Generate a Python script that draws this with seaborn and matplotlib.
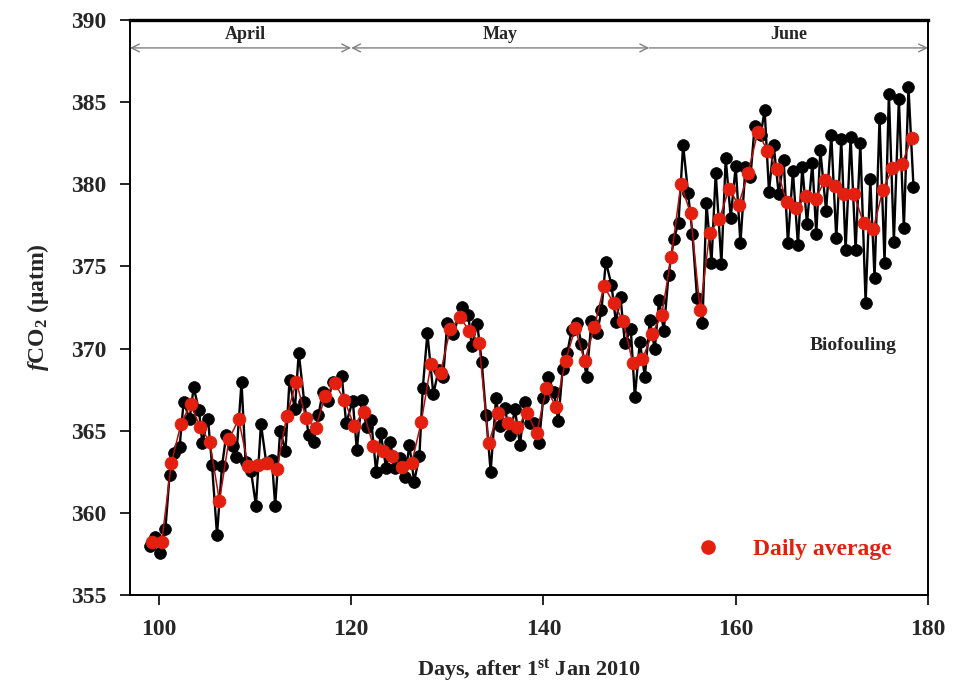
import numpy as np
import pandas as pd
import matplotlib
matplotlib.use("Agg")
import matplotlib.pyplot as plt
from matplotlib.lines import Line2D
import seaborn as sns

# Twice-daily fCO2 observations (day of year 2010, µatm)
obs_day = [
    99.12, 99.64, 100.16, 100.68, 101.12, 101.54, 102.16, 102.58, 103.2, 103.62,
    104.17, 104.52, 105.11, 105.53, 106.05, 106.57, 107.01, 107.71, 108.05, 108.6,
    109.02, 109.58, 110.1, 110.62, 111.17, 111.76, 112.1, 112.62, 113.17, 113.59,
    114.15, 114.55, 115.12, 115.57, 116.09, 116.6, 117.06, 117.58, 118.1, 119.03,
    119.48, 120.17, 120.59, 121.11, 121.6, 122.08, 122.6, 123.08, 123.64, 124.05,
    124.57, 125.09, 125.61, 126.06, 126.55, 127.1, 127.45, 127.93, 128.55, 129.1,
    129.57, 130.0, 130.63, 131.5, 132.19, 132.54, 133.12, 133.58, 134.03, 134.51,
    135.07, 135.48, 136.0, 136.52, 137.04, 137.56, 138.08, 138.6, 139.05, 139.53,
    139.98, 140.5, 141.09, 141.54, 142.0, 142.48, 142.94, 143.51, 143.96, 144.49,
    145.0, 145.58, 146.04, 146.49, 147.08, 147.53, 148.02, 148.47, 149.09, 149.51,
    150.03, 150.55, 151.06, 151.58, 152.03, 152.52, 153.01, 153.56, 154.05, 154.53,
    155.05, 155.5, 155.98, 156.54, 156.96, 157.48, 157.92, 158.51, 158.96, 159.48,
    160.0, 160.49, 161.01, 161.53, 161.97, 162.6, 163.01, 163.46, 163.95, 164.47,
    164.99, 165.43, 165.95, 166.47, 166.93, 167.41, 167.97, 168.38, 168.8, 169.4,
    169.94, 170.46, 170.98, 171.43, 171.95, 172.47, 172.96, 173.51, 174.0, 174.44,
    174.96, 175.48, 175.93, 176.45, 176.97, 177.49, 177.97, 178.49,
]
obs_fco2 = [
    357.99, 358.55, 357.54, 359.0, 362.33, 363.66, 364.03, 366.77, 365.70, 367.64,
    366.26, 364.27, 365.72, 362.92, 358.65, 362.85, 364.74, 364.07, 363.42, 367.95,
    363.12, 362.57, 360.44, 365.41, 363.06, 363.22, 360.44, 365.0, 363.75, 368.09,
    366.30, 369.75, 366.77, 364.74, 364.33, 365.96, 367.38, 366.83, 367.99, 368.33,
    365.45, 366.83, 363.83, 366.87, 365.2, 365.65, 362.51, 364.84, 362.71, 364.33,
    362.71, 363.32, 362.20, 364.13, 361.90, 363.46, 367.58, 370.93, 367.24, 368.7,
    368.27, 371.58, 370.89, 372.55, 372.05, 370.16, 371.50, 369.20, 365.96, 362.51,
    366.97, 365.29, 366.37, 364.74, 366.30, 364.13, 366.73, 365.49, 365.5, 364.27,
    366.97, 368.25, 367.38, 365.59, 368.74, 369.75, 371.13, 371.54, 370.28, 368.25,
    371.70, 370.93, 372.35, 375.29, 373.87, 371.64, 373.12, 370.32, 371.17, 367.07,
    370.42, 368.29, 371.74, 369.96, 372.96, 371.09, 374.48, 376.65, 377.66, 382.39,
    379.45, 377.0, 373.06, 371.58, 378.84, 375.23, 380.71, 375.15, 381.58, 377.97,
    381.11, 376.41, 381.03, 380.43, 383.55, 383.0, 384.52, 379.55, 382.39, 379.41,
    381.48, 376.41, 380.81, 376.31, 381.07, 377.58, 381.28, 376.97, 382.07, 378.39,
    383.0, 376.71, 382.74, 376.0, 382.90, 376.0, 382.49, 372.79, 380.30, 374.28,
    384.02, 375.23, 385.50, 376.51, 385.17, 377.32, 385.90, 379.85,
]

# Daily means, one per day of year 99-178
avg_day = list(range(99, 179))
avg_fco2 = [
    358.25, 358.25, 363.02, 365.41, 366.63, 365.21, 364.33, 360.72, 364.48, 365.70,
    362.85, 362.93, 363.02, 362.69, 365.90, 367.99, 365.75, 365.14, 367.11, 367.89,
    366.87, 365.31, 366.14, 364.07, 363.79, 363.48, 362.81, 363.02, 365.55, 369.06,
    368.54, 371.17, 371.90, 371.09, 370.36, 364.23, 366.10, 365.49, 365.21, 366.10,
    364.84, 367.58, 366.46, 369.25, 371.24, 369.25, 371.30, 373.81, 372.75, 371.68,
    369.10, 369.35, 370.89, 372.05, 375.59, 380.02, 378.23, 372.35, 377.06, 377.87,
    379.73, 378.74, 380.71, 383.20, 382.03, 380.91, 378.92, 378.54, 379.29, 379.12,
    380.26, 379.90, 379.41, 379.41, 377.62, 377.26, 379.65, 380.97, 381.24, 382.84,
]

# Month spans along the top of the panel (day of year)
month_names = ["April", "May", "June"]
month_edges = [97, 120, 151, 180]

x_ticks = [100, 120, 140, 160, 180]
y_ticks = [355, 360, 365, 370, 375, 380, 385, 390]

sns.set_theme(style="ticks")
plt.rcParams["font.family"] = ["Liberation Serif", "DejaVu Serif"]
plt.rcParams["font.weight"] = "bold"
plt.rcParams["mathtext.fontset"] = "custom"
plt.rcParams["mathtext.rm"] = "Liberation Serif:bold"
plt.rcParams["mathtext.it"] = "Liberation Serif:italic:bold"
plt.rcParams["mathtext.bf"] = "Liberation Serif:bold"

RED = "#e3200f"

fig = plt.figure(figsize=(9.63, 6.89), dpi=100)
ax = fig.add_axes([130 / 963, 1 - 595 / 689, 798 / 963, 575 / 689])

obs = pd.DataFrame({"day": obs_day, "fco2": obs_fco2})
avg = pd.DataFrame({"day": np.array(avg_day) + 0.3, "fco2": avg_fco2})

sns.lineplot(data=obs, x="day", y="fco2", ax=ax, color="black", lw=1.7,
             marker="o", markersize=8.5, markeredgecolor="black",
             markeredgewidth=0.5, estimator=None, sort=False, zorder=2)
sns.lineplot(data=avg, x="day", y="fco2", ax=ax, color="#b01010", lw=1.1,
             marker="o", markersize=9, markerfacecolor=RED,
             markeredgecolor=RED, estimator=None, sort=False, zorder=3)

ax.set_xlim(97, 180)
ax.set_ylim(355, 390)
ax.set_xticks(x_ticks)
ax.set_yticks(y_ticks)
ax.tick_params(axis="both", direction="out", length=7, width=1.2,
               labelsize=17, pad=10, color="black")
for lab in ax.get_xticklabels() + ax.get_yticklabels():
    lab.set_fontweight("bold")

for side in ["left", "bottom", "right"]:
    ax.spines[side].set_linewidth(1.4)
    ax.spines[side].set_color("black")
ax.spines["top"].set_linewidth(2.4)
ax.spines["top"].set_color("black")

ax.set_xlabel(r"Days, after 1$^{\mathrm{st}}$ Jan 2010", fontsize=16,
              fontweight="bold", labelpad=13)
ax.set_ylabel(r"$\mathit{f}$CO$_{\mathrm{2}}$ (μatm)", fontsize=17,
              fontweight="bold", labelpad=14)

# Month band with arrows
band_y = 388.3
for i, name in enumerate(month_names):
    x0, x1 = month_edges[i], month_edges[i + 1]
    style = "<->" if i < len(month_names) - 1 else "<-"
    ax.annotate("", xy=(x0, band_y), xytext=(x1, band_y),
                arrowprops=dict(arrowstyle=style, color="#808080", lw=1.0,
                                shrinkA=0, shrinkB=0, mutation_scale=14),
                annotation_clip=False)
    ax.text((x0 + x1) / 2 + (0.5 if i == 0 else 0), 389.1, name, ha="center",
            va="center", fontsize=13, fontweight="bold")

ax.text(172.2, 370.2, "Biofouling", ha="center", va="center", fontsize=14,
        fontweight="bold")

handle = Line2D([], [], marker="o", ls="", color=RED, markersize=9.5)
leg = ax.legend([handle], ["Daily average"], loc="center left",
                bbox_to_anchor=(0.668, 0.08), frameon=False,
                handletextpad=0.9, prop={"weight": "bold", "size": 17})
for t in leg.get_texts():
    t.set_color(RED)

fig.savefig("out.png", dpi=100)
